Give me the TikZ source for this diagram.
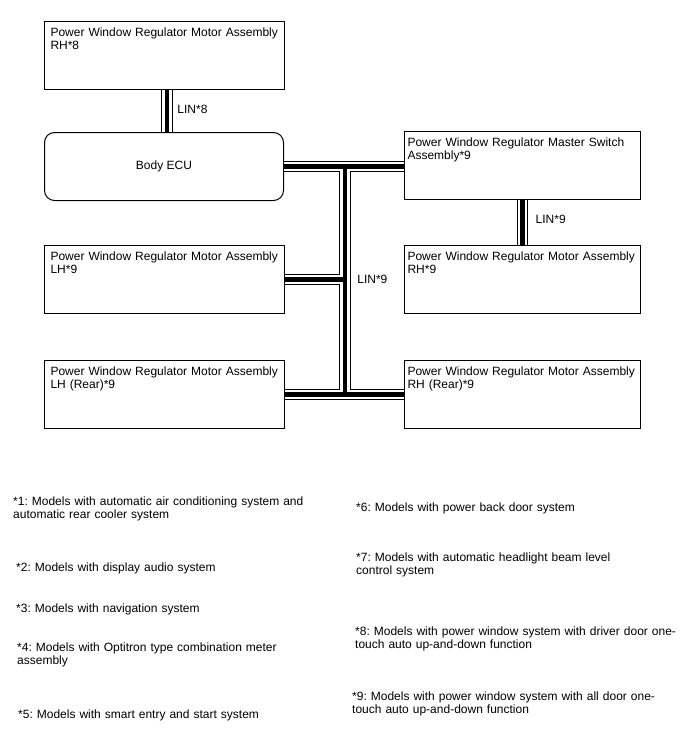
\documentclass[tikz,border=0pt]{standalone}
\usepackage{fontspec}
\setmainfont{Liberation Sans}
\usetikzlibrary{calc}
\frenchspacing

\begin{document}
\begin{tikzpicture}[x=1pt, y=-1pt,
    every node/.style={font=\fontsize{12}{13}\selectfont},
    unit/.style={draw, line width=1pt, anchor=north west, align=left,
                 inner ysep=0pt, text height=15pt, text depth=53pt},
    lunit/.style={unit, inner xsep=6pt, text width=228pt},
    runit/.style={unit, inner xsep=3pt, text width=230pt},
    ecu/.style={draw, line width=1pt, anchor=north west, rounded corners=10pt,
                minimum width=239pt, minimum height=68pt},
    lbl/.style={anchor=west, inner sep=0pt},
    note/.style={anchor=base west, inner sep=0pt, align=left, text width=330pt,
                 font=\fontsize{12}{13.5}\selectfont},
]
\useasboundingbox (0,0) rectangle (688,755);

% Modules
\node[lunit] (rh8) at (44,21) {Power Window Regulator Motor Assembly\\RH*8};
\node[ecu] (body) at (44,132) {Body ECU};
\node[runit] (master) at (404,131) {Power Window Regulator Master Switch\\Assembly*9};
\node[lunit] (lh9) at (44,245) {Power Window Regulator Motor Assembly\\LH*9};
\node[runit] (rh9) at (404,245) {Power Window Regulator Motor Assembly\\RH*9};
\node[lunit] (lhrear) at (44,360) {Power Window Regulator Motor Assembly\\LH (Rear)*9};
\node[runit] (rhrear) at (404,360) {Power Window Regulator Motor Assembly\\RH (Rear)*9};

% === LIN buses ===
\coordinate (jtop) at ($(body.east)!0.51!(master.west)$);
\coordinate (jbot) at (jtop |- lhrear.east);
\foreach \w/\c in {11.5/black, 9.5/white, 4.5/black}
  \draw[line width=\w pt, \c]
    ([xshift=2.5pt]rh8.south) -- ([xshift=2.5pt]rh8.south |- body.north)
    (master.south) -- (rh9.north)
    (body.east) -- (body.east -| master.west)
    (jtop) -- (jbot)
    (lh9.east) -- (lh9.east -| jtop)
    (lhrear.east) -- (rhrear.west);

\node[lbl, xshift=13pt, yshift=1.5pt] (lin8) at ($(rh8.south)!0.5!(body.north)$) {LIN*8};
\node[lbl, xshift=13pt, yshift=3pt] (lin9a) at ($(master.south)!0.5!(rh9.north)$) {LIN*9};
\node[lbl, xshift=12pt] (lin9b) at (lh9.east -| jtop) {LIN*9};

% Notes
\foreach \i/\px/\py/\txt in {
    1/13/505/{*1: Models with automatic air conditioning system and\\automatic rear cooler system},
    2/16/571/{*2: Models with display audio system},
    3/16/612/{*3: Models with navigation system},
    4/17/651/{*4: Models with Optitron type combination meter\\assembly},
    5/18/718/{*5: Models with smart entry and start system},
    6/356/511/{*6: Models with power back door system},
    7/356/561/{*7: Models with automatic headlight beam level\\control system},
    8/355/635/{*8: Models with power window system with driver door one-\\touch auto up-and-down function},
    9/352/700/{*9: Models with power window system with all door one-\\touch auto up-and-down function}}
  \node[note] (n\i) at (\px,\py) {\txt};

\end{tikzpicture}
\end{document}
